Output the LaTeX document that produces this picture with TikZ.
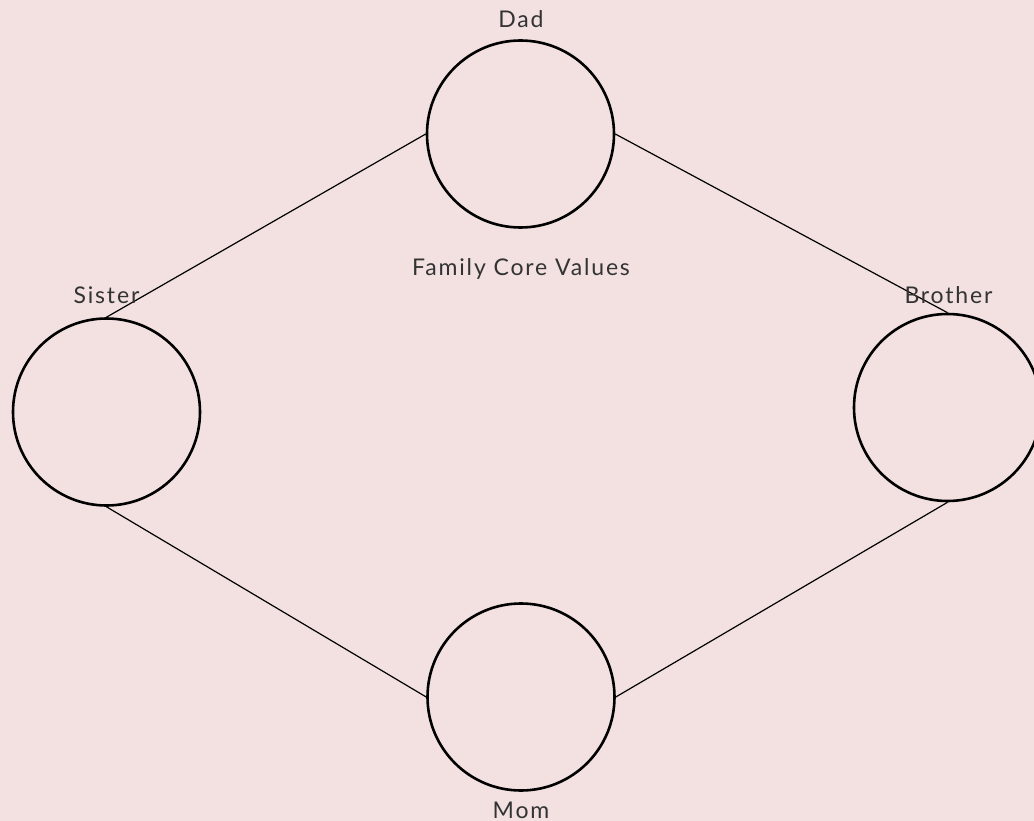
\documentclass[tikz,border=0pt]{standalone}
\usepackage{fontspec}
\setmainfont{Lato}[LetterSpace=8]
\definecolor{bgpink}{HTML}{F2E1E0}
\definecolor{txtgray}{HTML}{333333}
\tikzset{
  person/.style={circle, draw=black, line width=2.6pt, minimum size=187pt, inner sep=0pt},
  link/.style={draw=black, line width=1.2pt},
  lbl/.style={anchor=base, text=txtgray, font=\fontsize{23pt}{26pt}\selectfont, inner sep=0pt}
}
\begin{document}
\begin{tikzpicture}[x=1pt,y=-1pt]
\fill[bgpink] (0,0) rectangle (1034,821);
\useasboundingbox (0,0) rectangle (1034,821);
\node[person] (dad) at (520.5,134) {};
\node[person] (sister) at (106.5,412) {};
\node[person] (brother) at (947.5,407.5) {};
\node[person] (mom) at (521,697) {};
\draw[link] (dad.west) -- (sister.north);
\draw[link] (dad.east) -- (brother.north);
\draw[link] (sister.south) -- (mom.west);
\draw[link] (mom.east) -- (brother.south);
\node[lbl] (dadl) at (521,28) {Dad};
\node[lbl] (core) at (521,276) {Family Core Values};
\node[lbl] (sisl) at (106.5,303) {Sister};
\node[lbl] (brol) at (948.5,303) {Brother};
\node[lbl] (moml) at (521,818.5) {Mom};
\end{tikzpicture}
\end{document}
